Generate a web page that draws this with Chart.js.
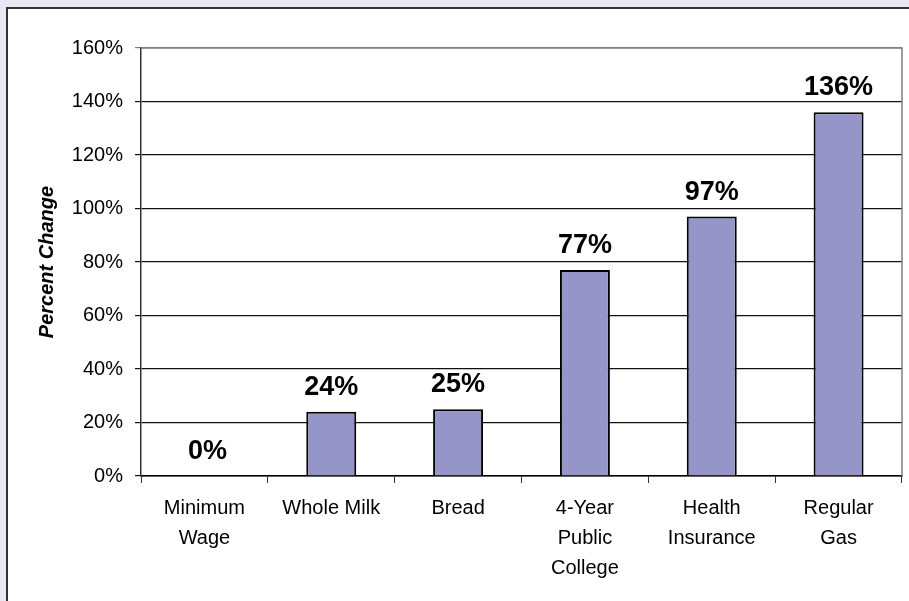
<!DOCTYPE html>
<html>
<head>
<meta charset="utf-8">
<script src="https://cdn.jsdelivr.net/npm/chart.js@4"></script>
<style>
html,body{margin:0;padding:0;background:#e9e9f3;}
#wrap{position:relative;width:909px;height:601px;overflow:hidden;}
canvas{display:block;}
</style>
</head>
<body>
<div id="wrap"><canvas id="c" width="909" height="601"></canvas></div>
<script>
const categories = [["Minimum","Wage"],["Whole Milk"],["Bread"],["4-Year","Public","College"],["Health","Insurance"],["Regular","Gas"]];
const percentChange = [0, 24, 25, 77, 97, 136];
const yTicks = [0, 20, 40, 60, 80, 100, 120, 140, 160];
const yTitle = "Percent Change";

const FONT = "'Liberation Sans', Arial, sans-serif";

const panelPlugin = {
  id: 'panel',
  beforeDraw(chart) {
    const ctx = chart.ctx;
    ctx.save();
    ctx.fillStyle = '#e9e9f3';
    ctx.fillRect(0, 0, chart.width, chart.height);
    ctx.fillStyle = '#ffffff';
    ctx.fillRect(7, 8, chart.width, chart.height);
    ctx.strokeStyle = '#333333';
    ctx.lineWidth = 2;
    ctx.beginPath();
    ctx.moveTo(7, chart.height + 5);
    ctx.lineTo(7, 8);
    ctx.lineTo(chart.width + 5, 8);
    ctx.stroke();
    ctx.restore();
  },
  afterDraw(chart) {
    const a = chart.chartArea;
    const ctx = chart.ctx;
    ctx.save();
    ctx.strokeStyle = '#808080';
    ctx.lineWidth = 1.5;
    ctx.beginPath();
    ctx.moveTo(a.left, a.top);
    ctx.lineTo(a.right, a.top);
    ctx.lineTo(a.right, a.bottom);
    ctx.stroke();
    ctx.restore();
  }
};

const labelPlugin = {
  id: 'barLabels',
  afterDatasetsDraw(chart) {
    const ctx = chart.ctx;
    const meta = chart.getDatasetMeta(0);
    ctx.save();
    ctx.font = "bold 27px " + FONT;
    ctx.fillStyle = '#000';
    ctx.textAlign = 'center';
    ctx.textBaseline = 'alphabetic';
    meta.data.forEach((bar, i) => {
      ctx.fillText(percentChange[i] + '%', bar.x + (percentChange[i] === 0 ? 3 : 0), bar.y - 17);
    });
    ctx.restore();
  }
};

new Chart(document.getElementById('c'), {
  type: 'bar',
  data: {
    labels: categories,
    datasets: [{
      data: percentChange,
      backgroundColor: '#9595c9',
      borderColor: '#000000',
      borderWidth: 2,
      categoryPercentage: 1.0,
      barPercentage: 0.394
    }]
  },
  options: {
    responsive: false,
    animation: false,
    devicePixelRatio: 1,
    layout: { padding: { left: 0, top: 48, right: 7, bottom: 0 } },
    plugins: { legend: { display: false }, tooltip: { enabled: false } },
    scales: {
      x: {
        grid: { display: true, drawOnChartArea: false, drawTicks: true, tickLength: 7, color: '#333', lineWidth: 1, offset: true },
        border: { display: true, color: '#000', width: 1.5 },
        ticks: { color: '#000', font: { family: FONT, size: 20, lineHeight: 1.5 }, padding: 10, maxRotation: 0, autoSkip: false },
        afterFit(scale) { scale.height = 125; }
      },
      y: {
        min: 0, max: 160,
        afterBuildTicks(scale) { scale.ticks = yTicks.map(v => ({ value: v })); },
        grid: {
          color: ctx => (ctx.tick && ctx.tick.value === 160) ? '#808080' : '#111',
          lineWidth: 1.2,
          drawTicks: true, tickLength: 6
        },
        border: { display: true, color: '#333', width: 1.5 },
        ticks: { color: '#000', font: { family: FONT, size: 20 }, padding: 12, callback: v => v + '%' },
        title: { display: true, text: yTitle, color: '#000', font: { family: FONT, size: 20, style: 'italic', weight: 'bold' }, padding: { top: 35, bottom: 0 } },
        afterFit(scale) { scale.width = 141; }
      }
    }
  },
  plugins: [panelPlugin, labelPlugin]
});
</script>
</body>
</html>
